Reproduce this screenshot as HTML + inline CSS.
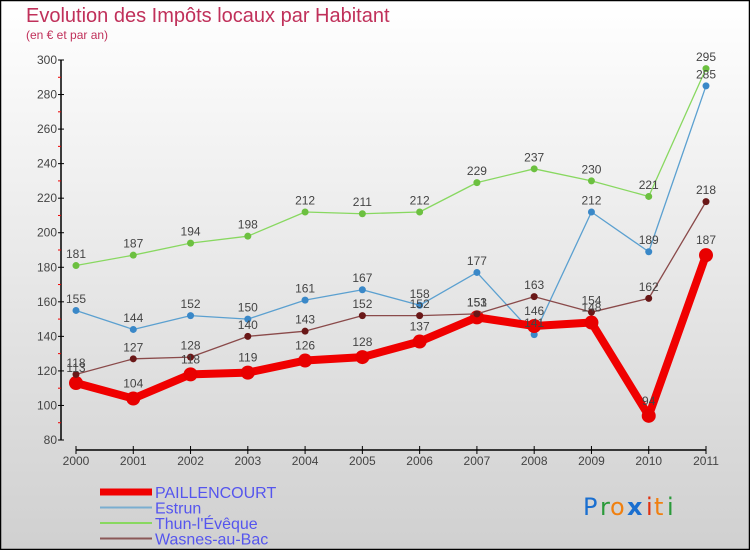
<!DOCTYPE html>
<html><head><meta charset="utf-8"><style>
html,body{margin:0;padding:0;}
body{width:750px;height:550px;overflow:hidden;font-family:"Liberation Sans",sans-serif;}
</style></head><body>
<svg id="chart" width="750" height="550" xmlns="http://www.w3.org/2000/svg" font-family="'Liberation Sans',sans-serif">
<defs><linearGradient id="bg" x1="0" y1="0" x2="0" y2="1"><stop offset="0" stop-color="#ffffff"/><stop offset="1" stop-color="#d0d0d0"/></linearGradient></defs>
<rect x="0.5" y="0.5" width="749" height="549" fill="url(#bg)" stroke="#000" stroke-width="1.5"/>
<text x="26" y="22" font-size="20" fill="#c0305a">Evolution des Impôts locaux par Habitant</text>
<text x="26" y="39" font-size="12" fill="#c0305a">(en € et par an)</text>
<g id="axes"></g><g id="series"></g><g id="labels"></g><g id="legend"></g>
<g font-size="24" font-family="'DejaVu Sans',sans-serif">
<text x="583" y="515" fill="#1a6fd0">P</text><text x="600" y="515" fill="#2a9a3a">r</text><text x="610" y="515" fill="#f08010">o</text><text x="627" y="515" fill="#1a6fd0" font-weight="bold">x</text><text x="646" y="515" fill="#e03010">i</text><text x="654" y="515" fill="#f08010">t</text><text x="667" y="515" fill="#2a9a3a">i</text>
</g>
</svg>
<script>
const years=[2000,2001,2002,2003,2004,2005,2006,2007,2008,2009,2010,2011];
const yTicks=[80,100,120,140,160,180,200,220,240,260,280,300];
const paillencourt=[113,104,118,119,126,128,137,151,146,148,94,187];
const estrun=[155,144,152,150,161,167,158,177,141,212,189,285];
const thun=[181,187,194,198,212,211,212,229,237,230,221,295];
const wasnes=[118,127,128,140,143,152,152,153,163,154,162,218];
const NS="http://www.w3.org/2000/svg";
const X=i=>76+i*(630/11);
const Y=v=>440-(v-80)*(380/220);
function mk(tag,attrs,parent){const e=document.createElementNS(NS,tag);for(const k in attrs)e.setAttribute(k,attrs[k]);parent.appendChild(e);return e;}
const axes=document.getElementById('axes');
const ya=mk('line',{x1:61,y1:60,x2:61,y2:440,stroke:'#000','stroke-width':1.5},axes);


yTicks.forEach((t,i)=>{
 mk('line',{x1:58,y1:Y(t),x2:64,y2:Y(t),stroke:'#000'},axes);
 if(i<yTicks.length-1)mk('line',{x1:58,y1:Y(t+10),x2:61,y2:Y(t+10),stroke:'#e00'},axes);
 const tx=mk('text',{x:57,y:Y(t)+4,'text-anchor':'end','font-size':12,fill:'#444'},axes);
 tx.textContent=t;
 
 
});
const xa=mk('line',{x1:76,y1:450,x2:706,y2:450,stroke:'#000','stroke-width':1.5},axes);


years.forEach((y,i)=>{
 mk('line',{x1:X(i),y1:446,x2:X(i),y2:454,stroke:'#000'},axes);
 const tx=mk('text',{x:X(i),y:465,'text-anchor':'middle','font-size':12,fill:'#444'},axes);
 tx.textContent=y;
 
 
});
const S=document.getElementById('series'),L=document.getElementById('labels');
function draw(vals,color,w,r,name,dot){
 const g=mk('g',{},S);
 
 
 mk('polyline',{points:vals.map((v,i)=>X(i)+','+Y(v)).join(' '),fill:'none',stroke:color,'stroke-width':w,'stroke-linejoin':'round'},g);
 vals.forEach((v,i)=>{
  const c=mk('circle',{cx:X(i),cy:Y(v),r:r,fill:dot},g);
  
  
  const t=mk('text',{x:X(i),y:Y(v)-r-4,'text-anchor':'middle','font-size':12,fill:'#444'},L);
  t.textContent=v;
  
  
 });
}
draw(thun,'#88d860',1.3,3.5,'thun','#6cc040');
draw(estrun,'#5ba0d0',1.3,3.5,'estrun','#3a88c8');
draw(paillencourt,'#f00000',8,7,'paillencourt','#e80000');
draw(wasnes,'#8a4a4a',1.3,3.5,'wasnes','#6a1818');
const lg=document.getElementById('legend');
[['PAILLENCOURT','#f00000',7],['Estrun','#7aaed0',2],["Thun-l'Évêque",'#88d860',2],['Wasnes-au-Bac','#8a5858',2]].forEach((d,i)=>{
 const y=492+i*15.5;
 const g=mk('g',{},lg);
 
 
 mk('line',{x1:100,y1:y,x2:152,y2:y,stroke:d[1],'stroke-width':d[2]},g);
 const t=mk('text',{x:155,y:y+6,'font-size':16,fill:'#5555ee'},g);
 t.textContent=d[0];
});
</script>
</body></html>
